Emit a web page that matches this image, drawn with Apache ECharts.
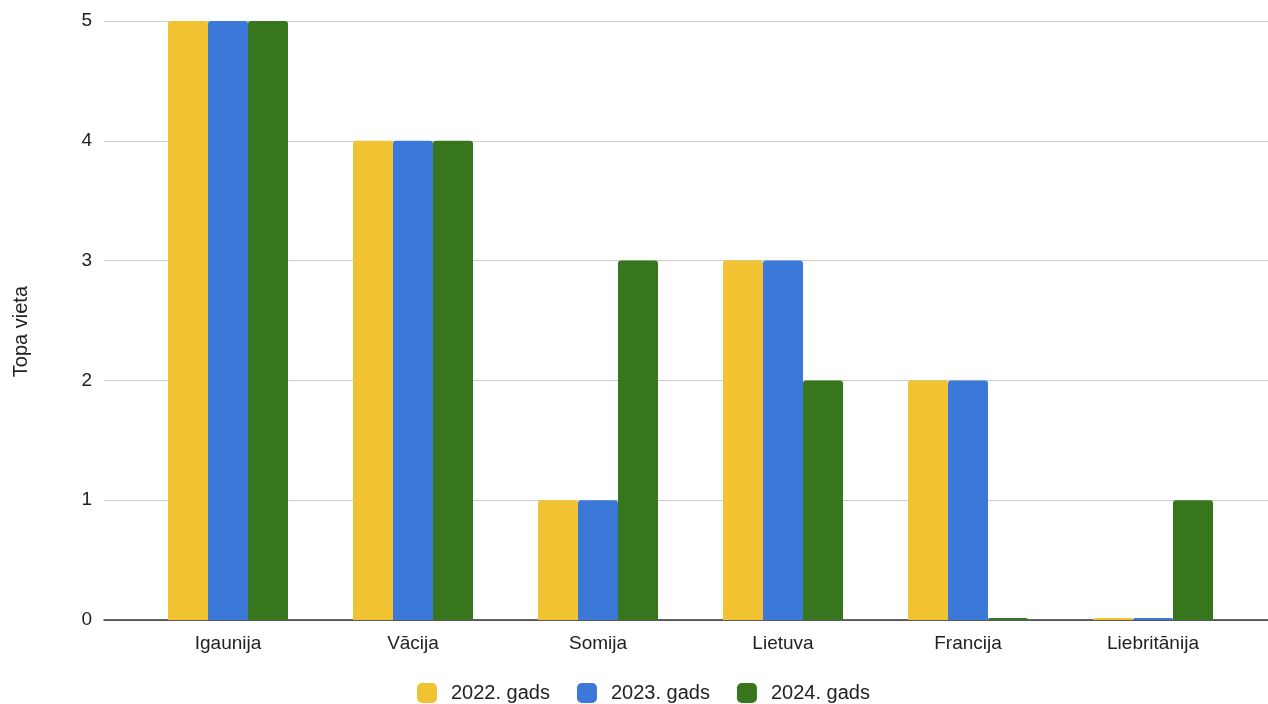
<!DOCTYPE html>
<html>
<head>
<meta charset="utf-8">
<script src="https://cdn.jsdelivr.net/npm/echarts@6/dist/echarts.min.js"></script>
<style>html,body{margin:0;padding:0;background:#fff;}#c{width:1268px;height:704px;}</style>
</head>
<body>
<div id="c"></div>
<script>
const categories = ['Igaunija', 'Vācija', 'Somija', 'Lietuva', 'Francija', 'Liebritānija'];
const seriesNames = ['2022. gads', '2023. gads', '2024. gads'];
const values2022 = [5, 4, 1, 3, 2, 0];
const values2023 = [5, 4, 1, 3, 2, 0];
const values2024 = [5, 4, 3, 2, 0, 1];
const yTicks = [0, 1, 2, 3, 4, 5];
const yTitle = 'Topa vieta';
const colors = ['#f1c232', '#3c78d8', '#38761d'];

const font = 'Liberation Sans, Arial, sans-serif';
const fs = 19;
const chart = echarts.init(document.getElementById('c'), null, {renderer: 'canvas'});
const allValues = [values2022, values2023, values2024];
chart.setOption({
  animation: false,
  color: colors,
  textStyle: {fontFamily: font},
  grid: [
    {left: 104, right: 0, top: 21, bottom: 84},
    {left: 135.5, right: 22.5, top: 21, bottom: 84}
  ],
  graphic: [{
    type: 'text', left: 11, top: 286, rotation: Math.PI / 2,
    style: {text: yTitle, font: '20px ' + font, fill: '#222'}
  }],
  legend: {
    data: seriesNames,
    top: 683,
    left: 417,
    padding: 0,
    itemWidth: 20, itemHeight: 20, itemGap: 27,
    icon: 'roundRect',
    textStyle: {fontSize: 20, color: '#222', fontFamily: font, padding: [0, 0, 0, 9]}
  },
  xAxis: [
    {type: 'category', gridIndex: 0, data: categories,
     axisLine: {show: true, lineStyle: {color: '#333', width: 1.5}},
     axisTick: {show: false}, axisLabel: {show: false}, splitLine: {show: false}},
    {type: 'category', gridIndex: 1, data: categories,
     axisLine: {show: false}, axisTick: {show: false},
     axisLabel: {fontSize: fs, color: '#222', margin: 14, fontFamily: font}}
  ],
  yAxis: [
    {type: 'value', gridIndex: 0, min: yTicks[0], max: yTicks[yTicks.length - 1], interval: 1,
     axisLine: {show: false}, axisTick: {show: false},
     axisLabel: {fontSize: fs, color: '#222', margin: 12, fontFamily: font, padding: [4, 0, 0, 0]},
     splitLine: {lineStyle: {color: '#cccccc', width: 1}}},
    {type: 'value', gridIndex: 1, min: yTicks[0], max: yTicks[yTicks.length - 1], interval: 1, show: false,
     splitLine: {show: false}}
  ],
  series: seriesNames.map((n, i) => ({
    name: n, type: 'bar', xAxisIndex: 1, yAxisIndex: 1,
    data: allValues[i],
    barWidth: 40, barGap: '0%', barMinHeight: 2,
    itemStyle: {color: colors[i], borderRadius: [3, 3, 0, 0]}
  }))
});
</script>
</body>
</html>
